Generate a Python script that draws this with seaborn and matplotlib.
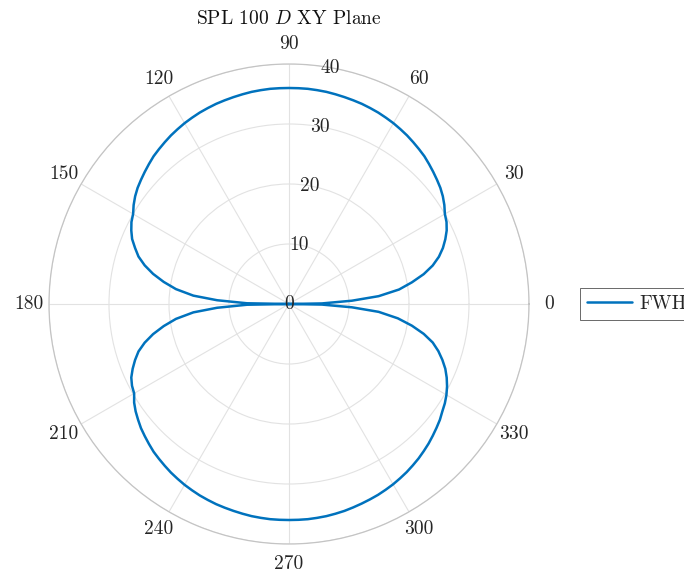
import numpy as np
import pandas as pd
import seaborn as sns
import matplotlib
matplotlib.use("Agg")
import matplotlib.pyplot as plt

# angle (deg) and SPL values, one list per quadrant
angle_q1 = [0, 1, 3, 5, 7.5, 10, 12.5, 15, 17.5, 20, 22.5, 25, 27.5, 30, 32.5, 35, 37.5, 40, 42.5,
            45, 47.5, 50, 52.5, 55, 57.5, 60, 62.5, 65, 67.5, 70, 72.5, 75, 77.5, 80, 82.5, 85, 87.5]
spl_q1 = [0, 5.5, 10.5, 15, 18.5, 20.8, 23, 24.8, 26.2, 27.3, 28.2, 29, 29.6, 30, 30.7, 31.3, 31.8, 32.2, 32.6,
          33, 33.4, 33.7, 34, 34.3, 34.55, 34.8, 35, 35.2, 35.35, 35.5, 35.6, 35.7, 35.8, 35.9, 35.95, 36, 36]

angle_q2 = [90, 92.5, 95, 97.5, 100, 102.5, 105, 107.5, 110, 112.5, 115, 117.5, 120, 122.5, 125, 127.5,
            130, 132.5, 135, 137.5, 140, 142.5, 145, 147.5, 150, 152.5, 155, 157.5, 160, 162.5, 165,
            167.5, 170, 172.5, 175, 177, 179]
spl_q2 = [36, 36, 36, 35.95, 35.9, 35.8, 35.7, 35.6, 35.5, 35.35, 35.2, 35, 34.8, 34.55, 34.3, 34,
          33.7, 33.4, 33.0, 32.6, 32.2, 31.8, 31.3, 30.7, 30.0, 29.6, 29.0, 28.3, 27.3, 26.3, 24.9,
          23.2, 21.2, 19, 16, 12, 7]

angle_q3 = [180, 181, 183, 185, 187.5, 190, 192.5, 195, 197.5, 200, 202.5, 205, 207.5, 210, 212.5, 215,
            217.5, 220, 222.5, 225, 227.5, 230, 232.5, 235, 237.5, 240, 242.5, 245, 247.5, 250, 252.5,
            255, 257.5, 260, 262.5, 265, 267.5]
spl_q3 = [0, 7, 12, 16, 19, 21.2, 23.2, 24.9, 26.3, 27.3, 28.2, 29, 29.5, 29.8, 30.6, 31.2,
          31.7, 32.2, 32.6, 33, 33.4, 33.7, 34, 34.3, 34.55, 34.8, 35, 35.2, 35.35, 35.5, 35.6,
          35.7, 35.8, 35.9, 35.95, 36, 36]

angle_q4 = [270, 272.5, 275, 277.5, 280, 282.5, 285, 287.5, 290, 292.5, 295, 297.5, 300, 302.5, 305,
            307.5, 310, 312.5, 315, 317.5, 320, 322.5, 325, 327.5, 330, 332.5, 335, 337.5, 340, 342.5,
            345, 347.5, 350, 352.5, 355, 357, 359, 360]
spl_q4 = [36, 36, 36, 35.95, 35.9, 35.8, 35.7, 35.55, 35.4, 35.25, 35.1, 34.9, 34.7, 34.45, 34.2,
          33.9, 33.6, 33.25, 32.9, 32.5, 32.1, 31.7, 31.2, 30.8, 30.3, 29.7, 29, 28.2, 27.2, 26.1,
          24.8, 23, 20.8, 18.3, 15, 10.5, 5.5, 0]

theta_ticks = [0, 30, 60, 90, 120, 150, 180, 210, 240, 270, 300, 330]
r_ticks = [0, 10, 20, 30, 40]

df = pd.DataFrame({
    "theta": np.deg2rad(angle_q1 + angle_q2 + angle_q3 + angle_q4),
    "SPL": spl_q1 + spl_q2 + spl_q3 + spl_q4,
})

sns.set_style("white")
plt.rcParams["font.family"] = ["cmr10", "DejaVu Serif"]
plt.rcParams["mathtext.fontset"] = "cm"
plt.rcParams["axes.formatter.use_mathtext"] = True

fig = plt.figure(figsize=(6.84, 5.75), dpi=100)
ax = fig.add_axes([0.0716, 0.0539, 0.7018, 0.8348], projection="polar")

sns.lineplot(data=df, x="theta", y="SPL", sort=False, estimator=None,
             color="#0072BD", linewidth=1.8, ax=ax, label="FWH", legend=False,
             solid_joinstyle="round")

ax.set_ylim(0, 40)
ax.set_thetagrids(theta_ticks, [str(t) for t in theta_ticks], fontsize=14, color="#262626")
ax.set_rticks(r_ticks)
ax.set_yticklabels([])
ax.tick_params(axis="x", pad=4)
ax.grid(True, color="#e2e2e2", linewidth=0.8)
ax.spines["polar"].set_color("#c4c4c4")
ax.spines["polar"].set_linewidth(0.9)
ax.set_xlabel("")
ax.set_ylabel("")

for r in r_ticks:
    ax.text(np.deg2rad(80), r, str(r), ha="center", va="center",
            fontsize=14, color="#262626")

ax.set_title(r"SPL 100 $D$ XY Plane", fontsize=14, pad=29, color="#111111")

handles, labels = ax.get_legend_handles_labels()
leg = fig.legend(handles, labels, loc="center left", bbox_to_anchor=(580 / 684, 1 - 304 / 575),
                 fontsize=14, frameon=True, fancybox=False, handlelength=2.3,
                 borderpad=0.35, handletextpad=0.4, borderaxespad=0)
leg.get_frame().set_edgecolor("#262626")
leg.get_frame().set_linewidth(0.6)

fig.savefig("out.png", dpi=100)
